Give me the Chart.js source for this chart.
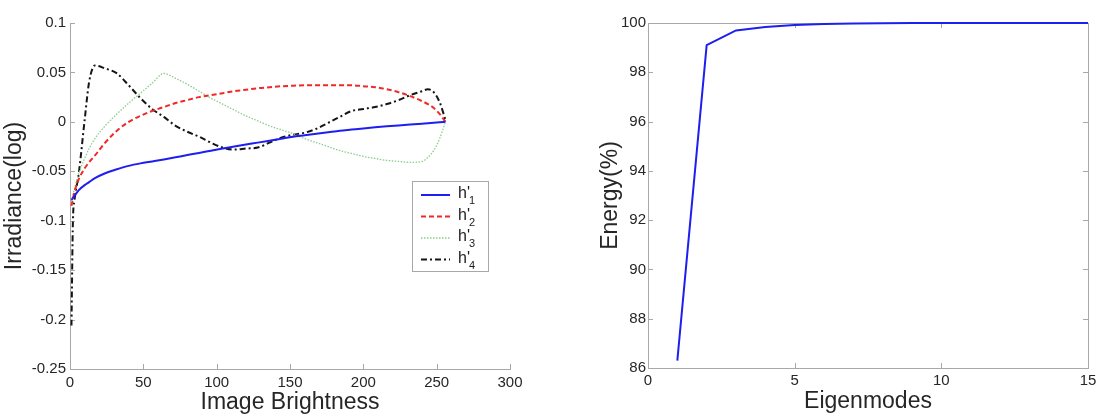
<!DOCTYPE html>
<html>
<head>
<meta charset="utf-8">
<script src="https://cdn.jsdelivr.net/npm/chart.js@4.4.1/dist/chart.umd.min.js"></script>
<style>
  html, body { margin: 0; padding: 0; background: #fff; }
  #wrap { position: relative; width: 1107px; height: 420px; }
  #c1 { position: absolute; left: 0; top: 0; }
  #c2 { position: absolute; left: 553px; top: 0; }
</style>
</head>
<body>
<div id="wrap">
  <canvas id="c1" width="553" height="420"></canvas>
  <canvas id="c2" width="554" height="420"></canvas>
</div>
<script>
// ---------- data (left chart) ----------
const brightness = [1,2,3,6,10,13,17,24,32,40,48,56,64,72,80,88,96,104,112,120,128,136,144,152,160,168,176,184,192,200,208,216,224,232,240,244,248,252,256];
const h1 = [-0.079,-0.077,-0.075,-0.069,-0.064,-0.061,-0.057,-0.052,-0.048,-0.0445,-0.042,-0.040,-0.038,-0.0358,-0.0336,-0.0314,-0.0292,-0.027,-0.025,-0.023,-0.021,-0.019,-0.017,-0.015,-0.0135,-0.012,-0.0105,-0.009,-0.0078,-0.0066,-0.0055,-0.0045,-0.0036,-0.0027,-0.0018,-0.0013,-0.0009,-0.0004,0];
const h2 = [-0.085,-0.078,-0.071,-0.058,-0.047,-0.041,-0.034,-0.021,-0.009,0.000,0.006,0.011,0.015,0.019,0.022,0.025,0.027,0.029,0.031,0.0325,0.034,0.035,0.036,0.0365,0.037,0.037,0.037,0.037,0.037,0.036,0.035,0.033,0.030,0.026,0.021,0.018,0.014,0.008,0];
const h3 = [-0.080,-0.074,-0.068,-0.052,-0.037,-0.027,-0.017,-0.004,0.008,0.019,0.029,0.039,0.049,0.044,0.038,0.031,0.024,0.018,0.012,0.006,0.001,-0.004,-0.008,-0.012,-0.017,-0.021,-0.025,-0.029,-0.032,-0.035,-0.037,-0.039,-0.040,-0.041,-0.040,-0.036,-0.029,-0.017,0];
const h4 = [-0.206,-0.10,-0.080,-0.052,0.002,0.040,0.057,0.054,0.049,0.037,0.024,0.013,0.005,-0.004,-0.010,-0.015,-0.021,-0.026,-0.028,-0.027,-0.026,-0.021,-0.016,-0.013,-0.011,-0.007,-0.001,0.005,0.011,0.013,0.015,0.018,0.022,0.027,0.031,0.033,0.030,0.020,0.002];
const seriesBase = ["h'", "h'", "h'", "h'"];
const seriesSub = ["1", "2", "3", "4"];
const leftXTicks = [0, 50, 100, 150, 200, 250, 300];
const leftYTicks = [-0.25, -0.2, -0.15, -0.1, -0.05, 0, 0.05, 0.1];
const leftYLabels = ["-0.25", "-0.2", "-0.15", "-0.1", "-0.05", "0", "0.05", "0.1"];

// ---------- data (right chart) ----------
const eigenmodes = [1,2,3,4,5,6,7,8,9,10,11,12,13,14,15];
const energy = [86.3, 99.1, 99.7, 99.84, 99.92, 99.96, 99.98, 99.99, 100, 100, 100, 100, 100, 100, 100];
const rightXTicks = [0, 5, 10, 15];
const rightYTicks = [86, 88, 90, 92, 94, 96, 98, 100];

Chart.defaults.font.family = "'Liberation Sans', Arial, sans-serif";
Chart.defaults.color = '#262626';

const AXIS = '#a8a8a8';
const TICKLEN = 5;

// inward tick marks (MATLAB style) + optional box
const innerTicks = {
  id: 'innerTicks',
  beforeDatasetsDraw(chart) {
    const o = chart.options.plugins.innerTicks || {};
    const ctx = chart.ctx, ca = chart.chartArea;
    const xs = chart.scales.x, ys = chart.scales.y;
    ctx.save();
    ctx.strokeStyle = AXIS; ctx.lineWidth = 1;
    ctx.beginPath();
    xs.ticks.forEach(t => {
      const px = Math.round(xs.getPixelForValue(t.value)) + 0.5;
      ctx.moveTo(px, ca.bottom); ctx.lineTo(px, ca.bottom - TICKLEN);
      if (o.box) { ctx.moveTo(px, ca.top); ctx.lineTo(px, ca.top + TICKLEN); }
    });
    ys.ticks.forEach(t => {
      const py = Math.round(ys.getPixelForValue(t.value)) + 0.5;
      ctx.moveTo(ca.left, py); ctx.lineTo(ca.left + TICKLEN, py);
      if (o.box) { ctx.moveTo(ca.right, py); ctx.lineTo(ca.right - TICKLEN, py); }
    });
    if (o.box) {
      ctx.moveTo(ca.left, Math.round(ca.top) + 0.5); ctx.lineTo(ca.right, Math.round(ca.top) + 0.5);
      ctx.moveTo(Math.round(ca.right) + 0.5, ca.top); ctx.lineTo(Math.round(ca.right) + 0.5, ca.bottom);
    }
    ctx.stroke();
    ctx.restore();
  }
};

// legend drawn inside the plot area
const insetLegend = {
  id: 'insetLegend',
  afterDraw(chart) {
    const o = chart.options.plugins.insetLegend;
    if (!o || !o.display) return;
    const ctx = chart.ctx, ca = chart.chartArea;
    const x0 = Math.round(ca.right - o.right - o.width), y0 = Math.round(ca.top + o.top);
    ctx.save();
    ctx.fillStyle = '#fff';
    ctx.fillRect(x0, y0, o.width, o.height);
    ctx.strokeStyle = AXIS; ctx.lineWidth = 1;
    ctx.strokeRect(x0 + 0.5, y0 + 0.5, o.width, o.height);
    chart.data.datasets.forEach((ds, i) => {
      const y = y0 + o.firstRow + i * o.rowGap;
      ctx.beginPath();
      ctx.setLineDash(ds.borderDash || []);
      ctx.strokeStyle = ds.borderColor; ctx.lineWidth = ds.borderWidth;
      ctx.moveTo(x0 + 9, y); ctx.lineTo(x0 + 38, y);
      ctx.stroke();
      ctx.setLineDash([]);
      ctx.fillStyle = '#1a1a1a';
      ctx.textAlign = 'left'; ctx.textBaseline = 'alphabetic';
      ctx.font = "16px 'Liberation Sans', Arial, sans-serif";
      ctx.fillText(seriesBase[i], x0 + 46, y + 3);
      const w = ctx.measureText(seriesBase[i]).width;
      ctx.font = "11px 'Liberation Sans', Arial, sans-serif";
      ctx.fillText(seriesSub[i], x0 + 46 + w - 1, y + 9);
    });
    ctx.restore();
  }
};

function mk(xArr, yArr) { return xArr.map((x, i) => ({ x: x, y: yArr[i] })); }

const tickFont = { size: 15 };
const titleFont = { size: 23 };

new Chart(document.getElementById('c1'), {
  type: 'line',
  data: {
    datasets: [
      { label: "h'1", data: mk(brightness, h1), borderColor: '#1e1ef0', borderWidth: 2, pointRadius: 0, cubicInterpolationMode: 'monotone', clip: 4 },
      { label: "h'2", data: mk(brightness, h2), borderColor: '#f02828', borderWidth: 2, borderDash: [5, 3], pointRadius: 0, cubicInterpolationMode: 'monotone', clip: 4 },
      { label: "h'3", data: mk(brightness, h3), borderColor: '#8ccc8c', borderWidth: 1.3, borderDash: [1.5, 1.5], pointRadius: 0, cubicInterpolationMode: 'monotone', clip: 4 },
      { label: "h'4", data: mk(brightness, h4), borderColor: '#151515', borderWidth: 2, borderDash: [6, 3, 2, 3], pointRadius: 0, cubicInterpolationMode: 'monotone', clip: 4 }
    ]
  },
  options: {
    responsive: false, animation: false, devicePixelRatio: 1,
    layout: { padding: { top: 23, right: 43, left: 0, bottom: 0 } },
    plugins: {
      legend: { display: false }, tooltip: { enabled: false },
      innerTicks: { box: false },
      insetLegend: { display: true, right: 22, top: 158, width: 76, height: 90, firstRow: 14, rowGap: 21.5 }
    },
    scales: {
      x: {
        type: 'linear', min: 0, max: 300,
        afterBuildTicks: s => { s.ticks = leftXTicks.map(v => ({ value: v })); },
        afterFit: s => { s.height = 51; },
        grid: { display: false, drawTicks: false },
        border: { display: true, color: AXIS, width: 1 },
        ticks: { font: tickFont, padding: 5, maxRotation: 0, callback: v => String(v) },
        title: { display: true, text: 'Image Brightness', font: titleFont, padding: { top: 0, bottom: 4 } }
      },
      y: {
        type: 'linear', min: -0.25, max: 0.1,
        afterBuildTicks: s => { s.ticks = leftYTicks.map(v => ({ value: v })); },
        afterFit: s => { s.width = 70; },
        grid: { display: false, drawTicks: false },
        border: { display: true, color: AXIS, width: 1 },
        ticks: { font: tickFont, padding: 4, callback: (v, i) => leftYLabels[i] },
        title: { display: true, text: 'Irradiance(log)', font: titleFont, padding: { top: 1, bottom: 0 } }
      }
    }
  },
  plugins: [innerTicks, insetLegend]
});

new Chart(document.getElementById('c2'), {
  type: 'line',
  data: {
    datasets: [
      { label: 'Energy', data: mk(eigenmodes, energy), borderColor: '#1e1ef0', borderWidth: 2, pointRadius: 0, tension: 0, clip: 4 }
    ]
  },
  options: {
    responsive: false, animation: false, devicePixelRatio: 1,
    layout: { padding: { top: 23, right: 19, left: 0, bottom: 0 } },
    plugins: {
      legend: { display: false }, tooltip: { enabled: false },
      innerTicks: { box: true }
    },
    scales: {
      x: {
        type: 'linear', min: 0, max: 15,
        afterBuildTicks: s => { s.ticks = rightXTicks.map(v => ({ value: v })); },
        afterFit: s => { s.height = 52; },
        grid: { display: false, drawTicks: false },
        border: { display: true, color: AXIS, width: 1 },
        ticks: { font: tickFont, padding: 4, maxRotation: 0, callback: v => String(v) },
        title: { display: true, text: 'Eigenmodes', font: titleFont, padding: { top: 0, bottom: 5 } }
      },
      y: {
        type: 'linear', min: 86, max: 100,
        afterBuildTicks: s => { s.ticks = rightYTicks.map(v => ({ value: v })); },
        afterFit: s => { s.width = 95; },
        grid: { display: false, drawTicks: false },
        border: { display: true, color: AXIS, width: 1 },
        ticks: { font: tickFont, padding: 2, callback: v => String(v) },
        title: { display: true, text: 'Energy(%)', font: titleFont, padding: { top: 44, bottom: 0 } }
      }
    }
  },
  plugins: [innerTicks]
});
</script>
</body>
</html>
